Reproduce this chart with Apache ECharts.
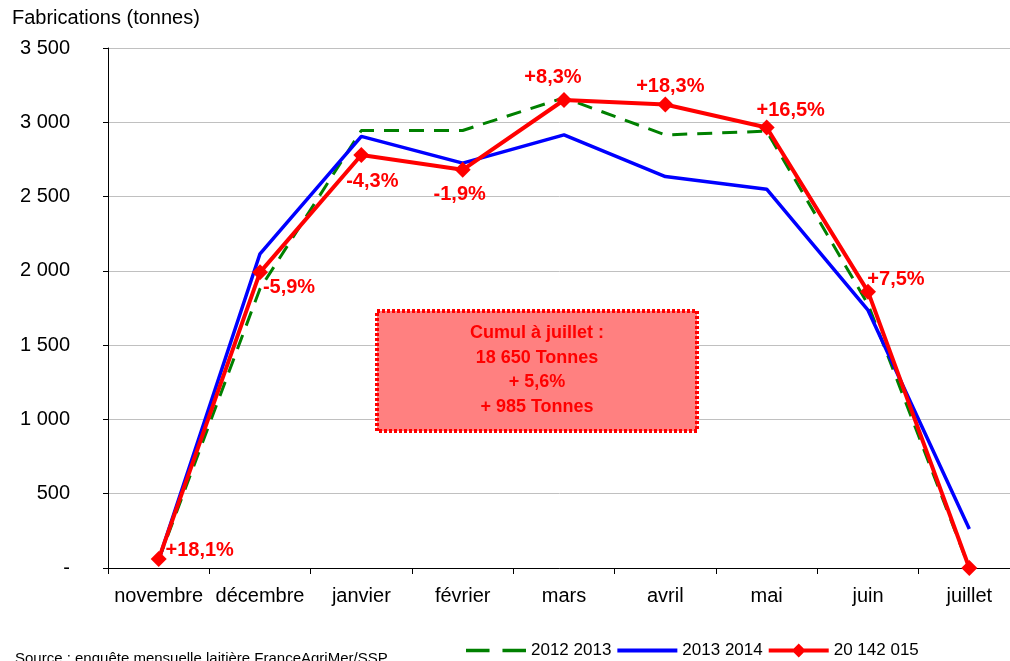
<!DOCTYPE html>
<html>
<head>
<meta charset="utf-8">
<script src="https://cdn.jsdelivr.net/npm/echarts@6/dist/echarts.min.js"></script>
<style>
  html, body { margin: 0; padding: 0; background: #fff; overflow: hidden; }
  #chart { width: 1010px; height: 661px; }
</style>
</head>
<body>
<div id="chart"></div>
<script>
// données
var months = ['novembre', 'décembre', 'janvier', 'février', 'mars', 'avril', 'mai', 'juin', 'juillet'];
var serie1213 = [55, 1880, 2945, 2945, 3165, 2915, 2940, 1775, 0];
var serie1314 = [55, 2115, 2905, 2725, 2915, 2635, 2550, 1735, 262];
var serie1415 = [60, 1990, 2780, 2680, 3150, 3120, 2965, 1860, 0];
var evolution = ['+18,1%', '-5,9%', '-4,3%', '-1,9%', '+8,3%', '+18,3%', '+16,5%', '+7,5%', ''];
// décalage du centre de chaque étiquette par rapport au point [dx, dy]
var labelShift = [[41, -9], [29, 15], [11, 27], [-3, 25], [-11, -23], [5, -18], [24, -17], [28, -12], [0, 0]];
var annotation = ['Cumul à juillet :', '18 650 Tonnes', '+ 5,6%', '+ 985 Tonnes'];

var font = '"Liberation Sans", Arial, sans-serif';
var symSize = 16;

function fmt(v) {
    if (v === 0) return '-';
    return String(v).replace(/\B(?=(\d{3})+(?!\d))/g, ' ');
}

var redData = serie1415.map(function (v, i) {
    return {
        value: v,
        label: {
            show: evolution[i] !== '',
            formatter: evolution[i],
            position: [symSize / 2 + labelShift[i][0], symSize / 2 + labelShift[i][1]],
            align: 'center',
            verticalAlign: 'middle'
        }
    };
});

var chart = echarts.init(document.getElementById('chart'));
chart.setOption({
    animation: false,
    textStyle: { fontFamily: font },
    grid: { left: 108, top: 48, width: 912, bottom: 93, outerBoundsMode: 'none' },
    legend: {
        left: 461, top: 637,
        itemWidth: 60, itemHeight: 14, itemGap: 6,
        textStyle: { fontSize: 17, color: '#000', fontFamily: font },
        data: [
            { name: '2012 2013', icon: 'path://M0,0 H20 V3 H0 Z M31,0 H51 V3 H31 Z', itemStyle: { color: '#008000' } },
            { name: '2013 2014', icon: 'path://M0,0 H60 V4 H0 Z', itemStyle: { color: '#0000ff' } },
            { name: '20 142 015', icon: 'path://M0,5 H25 L30,0 L35,5 H60 V9 H35 L30,14 L25,9 H0 Z', itemStyle: { color: '#ff0000' } }
        ]
    },
    xAxis: {
        type: 'category',
        data: months,
        boundaryGap: true,
        axisLine: { lineStyle: { color: '#000', width: 1 } },
        axisTick: { show: true, length: 6, interval: 0, lineStyle: { color: '#000' } },
        axisLabel: { fontSize: 20, color: '#000', margin: 18, interval: 0, fontFamily: font }
    },
    yAxis: {
        type: 'value',
        min: 0, max: 3500, interval: 500,
        axisLine: { show: true, lineStyle: { color: '#000', width: 1 } },
        axisTick: { show: true, length: 5, lineStyle: { color: '#000' } },
        splitLine: { lineStyle: { color: '#c0c0c0', width: 1 } },
        axisLabel: { fontSize: 20, color: '#000', margin: 38, formatter: fmt, fontFamily: font }
    },
    series: [
        {
            name: '2012 2013', type: 'line', data: serie1213,
            symbol: 'none', z: 2,
            lineStyle: { color: '#008000', width: 3, type: [15, 10] },
            itemStyle: { color: '#008000' }
        },
        {
            name: '2013 2014', type: 'line', data: serie1314,
            symbol: 'none', z: 3,
            lineStyle: { color: '#0000ff', width: 3.5 },
            itemStyle: { color: '#0000ff' }
        },
        {
            name: '20 142 015', type: 'line', data: redData,
            symbol: 'diamond', symbolSize: symSize, z: 4,
            lineStyle: { color: '#ff0000', width: 4 },
            itemStyle: { color: '#ff0000' },
            label: { color: '#ff0000', fontSize: 20, fontWeight: 'bold', fontFamily: font }
        }
    ],
    graphic: [
        {
            type: 'rect', x: 377, y: 311, z: 10,
            shape: { width: 320, height: 120 },
            style: { fill: '#ff8080', stroke: '#ff0000', lineWidth: 4, lineDash: [3, 2] }
        },
        {
            type: 'text', x: 537, y: 321, z: 11,
            style: {
                text: annotation.join('\n'),
                align: 'center', verticalAlign: 'top',
                fill: '#ff0000', fontSize: 18, fontWeight: 'bold',
                fontFamily: font, lineHeight: 24.5
            }
        },
        {
            type: 'text', x: 12, y: 8,
            style: { text: 'Fabrications (tonnes)', fill: '#000', fontSize: 20, fontFamily: font }
        },
        {
            type: 'text', x: 15, y: 651,
            style: { text: 'Source : enquête mensuelle laitière FranceAgriMer/SSP', fill: '#000', fontSize: 15, fontFamily: font }
        }
    ]
});
</script>
</body>
</html>
